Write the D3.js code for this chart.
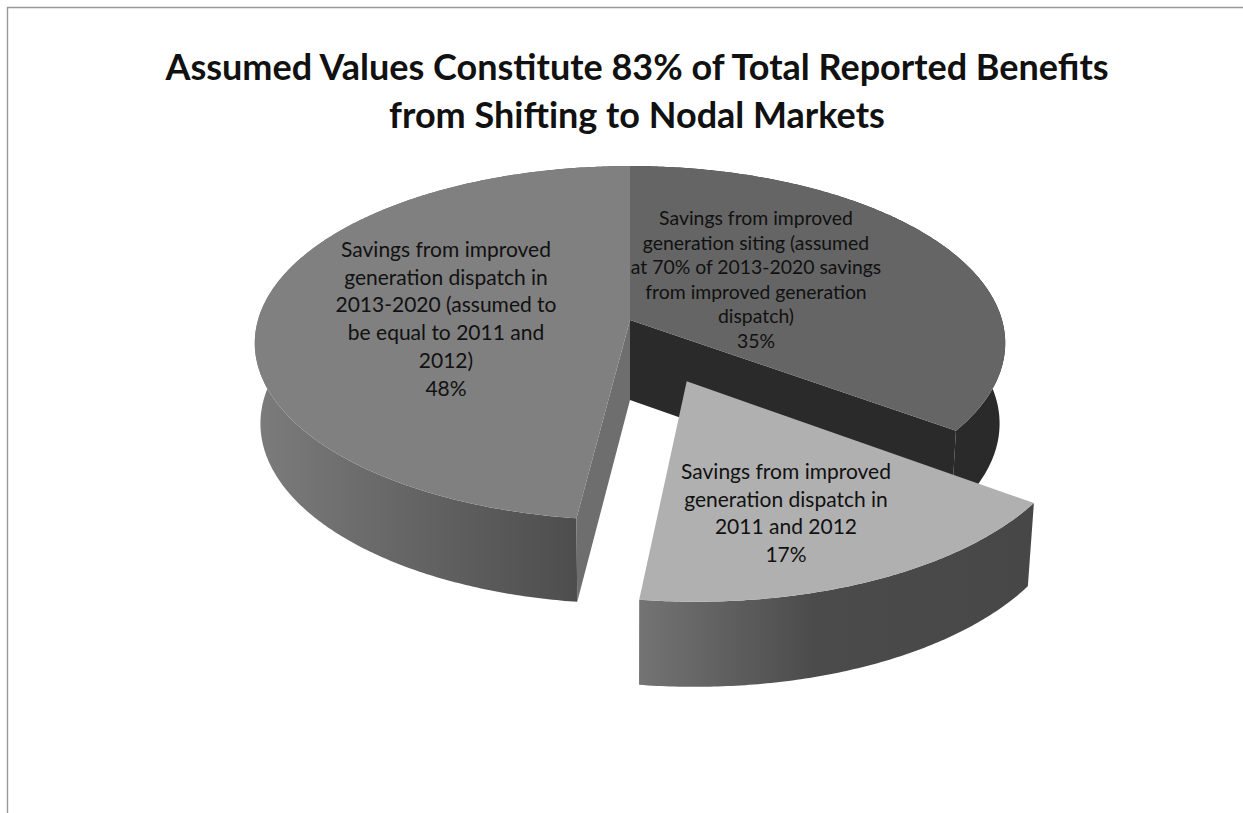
<!DOCTYPE html>
<html>
<head>
<meta charset="utf-8">
<script src="https://cdnjs.cloudflare.com/ajax/libs/d3/7.8.5/d3.min.js"></script>
<style>
  html, body { margin: 0; padding: 0; background: #fff; }
  svg { display: block; }
  text { font-family: Lato, "Open Sans", sans-serif; fill: #111; text-anchor: middle; }
</style>
</head>
<body>
<svg id="chart" width="1243" height="813"></svg>
<script>
// Chart values
const titleLines = [
  "Assumed Values Constitute 83% of Total Reported Benefits",
  "from Shifting to Nodal Markets"
];
const sliceNames = ["siting", "dispatch2011", "dispatch2013"];
const sliceValues = [35, 17, 48];
const sliceLabels = [
  ["Savings from improved", "generation siting (assumed", "at 70% of 2013-2020 savings", "from improved generation", "dispatch)"],
  ["Savings from improved", "generation dispatch in", "2011 and 2012"],
  ["Savings from improved", "generation dispatch in", "2013-2020 (assumed to", "be equal to 2011 and", "2012)"]
];
const sliceExplode = [0, 0.367, 0];

// Appearance per slice
const topColors = ["#656565", "#b0b0b0", "#808080"];
const labelStyle = [
  { x: 756, y: 225, size: 19.4, step: 24.5 },
  { x: 786, y: 479, size: 21, step: 27.7 },
  { x: 446, y: 257, size: 21, step: 27.7 }
];

const svg = d3.select("#chart");
const defs = svg.append("defs");

function wallGradient(id, x1, x2, stops) {
  const g = defs.append("linearGradient").attr("id", id)
    .attr("gradientUnits", "userSpaceOnUse")
    .attr("x1", x1).attr("x2", x2).attr("y1", 0).attr("y2", 0);
  stops.forEach(([o, c]) => g.append("stop").attr("offset", o).attr("stop-color", c));
  return `url(#${id})`;
}
const wallFills = [
  "#2a2a2a",
  wallGradient("wall17", 641, 1030, [[0, "#737373"], [0.45, "#4b4b4b"], [1, "#474747"]]),
  wallGradient("wall48", 255, 580, [[0, "#7c7c7c"], [0.45, "#666666"], [1, "#4d4d4d"]])
];

// Frame: top and left rules only
svg.append("path")
  .attr("d", d3.line()([[7.5, 813], [7.5, 7.5], [1243, 7.5]]))
  .attr("fill", "none").attr("stroke", "#999").attr("stroke-width", 1.4);

// Perspective projection of the pie's ground plane (unit radius)
const cam = { cx: 630, cy: 320, ax: 372, ay: 174, p: 0.1305 };
const floor = { dy: 80, kx: 0.985, ky: 1.018 };

function project(theta, radius, off, isFloor) {
  const X = radius * Math.sin(theta) + off[0];
  const Z = radius * Math.cos(theta) + off[1];
  const d = 1 + cam.p * Z;
  const px = cam.ax * X / d;
  const py = -cam.ay * Z / d;
  return isFloor
    ? [cam.cx + floor.kx * px, cam.cy + floor.dy + floor.ky * py]
    : [cam.cx + px, cam.cy + py];
}

function rimPoints(a0, a1, off, isFloor) {
  const n = Math.max(2, Math.ceil((a1 - a0) / 0.01));
  return d3.range(n + 1).map(i => project(a0 + (a1 - a0) * i / n, 1, off, isFloor));
}

const closed = d3.line().curve(d3.curveLinearClosed);

const arcs = d3.pie().sort(null).value(d => d)(sliceValues).map((a, i) => {
  const mid = (a.startAngle + a.endAngle) / 2;
  const off = [sliceExplode[i] * Math.sin(mid), sliceExplode[i] * Math.cos(mid)];
  return { ...a, i, off, name: sliceNames[i] };
});

function outerWall(a) {
  return closed(rimPoints(a.startAngle, a.endAngle, a.off, false)
    .concat(rimPoints(a.startAngle, a.endAngle, a.off, true).reverse()));
}
function radialWall(a, angle) {
  return closed([
    project(0, 0, a.off, false), project(angle, 1, a.off, false),
    project(angle, 1, a.off, true), project(0, 0, a.off, true)
  ]);
}
function topFace(a) {
  return closed([project(0, 0, a.off, false)].concat(rimPoints(a.startAngle, a.endAngle, a.off, false)));
}

const pie = svg.append("g").attr("class", "pie");
const [siting, d2011, d2013] = arcs;

// Painter's order: rear slice, large slice, then the pulled-out slice
pie.append("path").attr("d", outerWall(siting)).attr("fill", wallFills[0]);
pie.append("path").attr("d", radialWall(siting, siting.endAngle)).attr("fill", wallFills[0]);
pie.append("path").attr("d", topFace(siting)).attr("fill", topColors[0]);

pie.append("path").attr("d", outerWall(d2013)).attr("fill", wallFills[2]);
pie.append("path").attr("d", radialWall(d2013, d2013.startAngle)).attr("fill", "#6e6e6e");
pie.append("path").attr("d", topFace(d2013)).attr("fill", topColors[2]);

pie.append("path").attr("d", outerWall(d2011)).attr("fill", wallFills[1]);
pie.append("path").attr("d", topFace(d2011)).attr("fill", topColors[1]);

// Slice labels with the percentage as the last line
svg.selectAll("g.label").data(arcs).join("g").attr("class", "label")
  .each(function (a) {
    const s = labelStyle[a.i];
    const lines = sliceLabels[a.i].concat(`${a.value}%`);
    d3.select(this).selectAll("text").data(lines).join("text")
      .attr("x", s.x)
      .attr("y", (d, k) => s.y + k * s.step)
      .attr("font-size", s.size)
      .text(d => d);
  });

// Title
svg.selectAll("text.title").data(titleLines).join("text")
  .attr("class", "title")
  .attr("x", 637)
  .attr("y", (d, i) => 80 + i * 48)
  .attr("font-size", 36)
  .attr("font-weight", 700)
  .text(d => d);
</script>
</body>
</html>
